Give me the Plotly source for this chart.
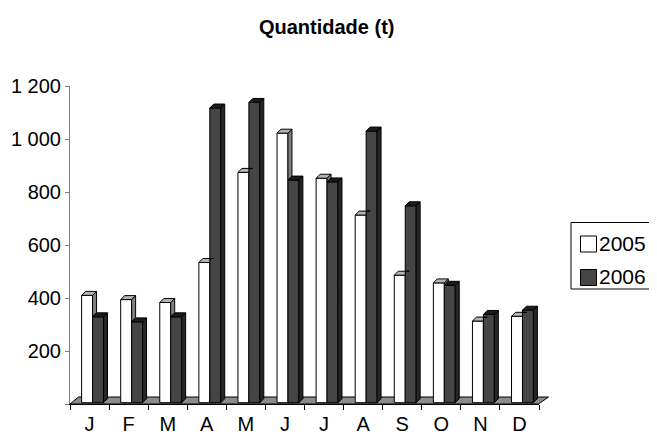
import plotly.graph_objects as go

# ---------------- data ----------------
months = ["J", "F", "M", "A", "M", "J", "J", "A", "S", "O", "N", "D"]
series_names = ["2005", "2006"]
v2005 = [405, 389, 378, 529, 869, 1017, 847, 708, 481, 452, 308, 326]
v2006 = [324, 305, 324, 1112, 1133, 840, 833, 1025, 743, 443, 333, 349]
y_ticks = [0, 200, 400, 600, 800, 1000, 1200]
y_tick_text = ["", "200", "400", "600", "800", "1 000", "1 200"]

# ---------------- style / geometry ----------------
FONT = "Liberation Sans, Arial, sans-serif"
W = 0.28        # bar width (category units)
SHIFT = 0.077   # pair shift to the right
DX = 0.102      # 3D depth in x (category units)
DY = 15         # 3D depth in y (value units)
BASE = 5        # bars stand slightly back on the floor

WHITE_FRONT, WHITE_SIDE, WHITE_TOP = "#ffffff", "#808080", "#b4b4b4"
DARK_FRONT, DARK_SIDE, DARK_TOP = "#454545", "#262626", "#1c1c1c"

OFF = 8                      # page body margin offset of the figure
FW, FH = 657 - OFF, 436 - OFF
L = 70 - OFF                 # plot left (reference x = 70)
R = FW - (539 - OFF)         # plot right (reference x = 539)
T = 86 - OFF                 # plot top (reference y = 86)
B = FH - (404 - OFF)         # plot bottom (reference y = 404)
PW, PH = FW - L - R, FH - T - B

idx = list(range(len(months)))
x05 = [i + SHIFT - W / 2 for i in idx]
x06 = [i + SHIFT + W / 2 for i in idx]

fig = go.Figure()

fig.add_trace(go.Bar(x=x05, y=v2005, base=BASE, width=W, name=series_names[0],
                     marker=dict(color=WHITE_FRONT, line=dict(color="black", width=1)),
                     showlegend=False))
fig.add_trace(go.Bar(x=x06, y=v2006, base=BASE, width=W, name=series_names[1],
                     marker=dict(color=DARK_FRONT, line=dict(color="black", width=1)),
                     showlegend=False))

def clamp(v, lo, hi):
    return max(lo, min(hi, v))

# 2005 side faces (only part not hidden by the 2006 bar) and tops
sx, sy, tx, ty = [], [], [], []
for i in idx:
    r = i + SHIFT
    l = r - W
    t = BASE + v2005[i]
    h2 = BASE + v2006[i]
    lo = max(BASE, h2)
    if t > lo:
        sx += [r, r, r + DX, r + DX, r, None]
        sy += [lo, t, t + DY, lo + DY, lo, None]
    h2c = clamp(h2, t, t + DY)
    xh = r + (h2c - t) / DY * DX
    tx += [l, r, r, xh, r + DX, l + DX, l, None]
    ty += [t, t, h2c, h2c, t + DY, t + DY, t, None]

fig.add_trace(go.Scatter(x=sx, y=sy, mode="lines", fill="toself", fillcolor=WHITE_SIDE,
                         line=dict(color="black", width=1), showlegend=False, hoverinfo="skip"))
fig.add_trace(go.Scatter(x=tx, y=ty, mode="lines", fill="toself", fillcolor=WHITE_TOP,
                         line=dict(color="black", width=1), showlegend=False, hoverinfo="skip"))

# 2006 side faces and tops
sx, sy, tx, ty = [], [], [], []
for i in idx:
    r = i + SHIFT + W
    l = r - W
    t = BASE + v2006[i]
    sx += [r, r, r + DX, r + DX, r, None]
    sy += [BASE, t, t + DY, BASE + DY, BASE, None]
    tx += [l, r, r + DX, l + DX, l, None]
    ty += [t, t, t + DY, t + DY, t, None]

fig.add_trace(go.Scatter(x=sx, y=sy, mode="lines", fill="toself", fillcolor=DARK_SIDE,
                         line=dict(color="black", width=1), showlegend=False, hoverinfo="skip"))
fig.add_trace(go.Scatter(x=tx, y=ty, mode="lines", fill="toself", fillcolor=DARK_TOP,
                         line=dict(color="black", width=1), showlegend=False, hoverinfo="skip"))

# ---------------- decorations (given in reference-pixel coordinates) ----------------
def px(xp):
    return (xp - OFF - L) / PW

def py(yp):
    return (FH - B - (yp - OFF)) / PH

shapes = []
# floor
shapes.append(dict(type="path", xref="paper", yref="paper", layer="below",
                   path=f"M {px(70)},{py(404)} L {px(538.5)},{py(404)} L {px(548.5)},{py(397)} L {px(78.5)},{py(397)} Z",
                   fillcolor="#8c8c8c", line=dict(color="black", width=1)))
# legend box
shapes.append(dict(type="rect", xref="paper", yref="paper",
                   x0=px(571), x1=px(655.5), y0=py(289), y1=py(222.5),
                   fillcolor="white", line=dict(color="black", width=1)))
shapes.append(dict(type="rect", xref="paper", yref="paper",
                   x0=px(580.5), x1=px(596.5), y0=py(252), y1=py(236),
                   fillcolor=WHITE_FRONT, line=dict(color="black", width=1)))
shapes.append(dict(type="rect", xref="paper", yref="paper",
                   x0=px(580.5), x1=px(596.5), y0=py(285.5), y1=py(269.5),
                   fillcolor=DARK_FRONT, line=dict(color="black", width=1)))

annotations = [
    dict(text=series_names[0], xref="paper", yref="paper", x=px(597), y=py(243.5),
         xanchor="left", yanchor="middle", showarrow=False,
         font=dict(family=FONT, size=21, color="black")),
    dict(text=series_names[1], xref="paper", yref="paper", x=px(597), y=py(276.5),
         xanchor="left", yanchor="middle", showarrow=False,
         font=dict(family=FONT, size=21, color="black")),
]

fig.update_layout(
    width=FW, height=FH,
    autosize=False,
    margin=dict(l=L, r=R, t=T, b=B, autoexpand=False),
    paper_bgcolor="white", plot_bgcolor="white",
    barmode="overlay",
    showlegend=False,
    font=dict(family=FONT, size=20, color="black"),
    title=dict(text="<b>Quantidade (t)</b>", x=(326.7 - OFF) / FW, y=1 - (27 - OFF) / FH,
               xref="container", yref="container", xanchor="center", yanchor="middle",
               font=dict(family=FONT, size=20, color="black")),
    shapes=shapes,
    annotations=annotations,
    xaxis=dict(range=[-0.5, 11.5], tickvals=idx, ticktext=months,
               ticks="outside", ticklen=2, tickcolor="rgba(0,0,0,0)",
               minor=dict(ticks="outside", tick0=-0.5, dtick=1, ticklen=5,
                          tickcolor="black", tickwidth=1, showgrid=False),
               showline=True, linecolor="black", linewidth=1,
               showgrid=False, zeroline=False, fixedrange=True, automargin=False,
               tickfont=dict(family=FONT, size=20, color="black")),
    yaxis=dict(range=[0, 1200], tickvals=y_ticks, ticktext=y_tick_text,
               ticks="outside", ticklen=4, tickcolor="#808080",
               showline=True, linecolor="#808080", linewidth=1,
               showgrid=False, zeroline=False, fixedrange=True, automargin=False,
               tickfont=dict(family=FONT, size=20, color="black")),
)

fig.write_html("out.html")
